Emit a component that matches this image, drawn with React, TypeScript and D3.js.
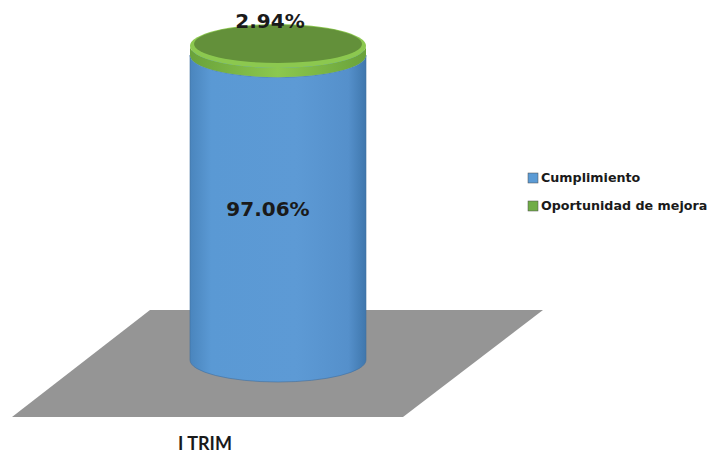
import React from "react";
import * as d3 from "d3";

const categories = ["I TRIM"];
const seriesNames = ["Cumplimiento", "Oportunidad de mejora"];
const cumplimiento = [97.06];
const oportunidad = [2.94];
const seriesColors = ["#5b9bd5", "#70ad47"];

export default function App() {
  const W = 709, H = 454;
  const y = d3.scaleLinear().domain([0, 100]).range([360, 46]);
  const x = d3.scaleBand().domain(categories).range([190, 366]).padding(0);
  const cx = (x(categories[0]) as number) + x.bandwidth() / 2;
  const rx = x.bandwidth() / 2;
  const ry = 22;

  const body = (y0: number, y1: number) =>
    `M${cx - rx},${y1} L${cx - rx},${y0} A${rx},${ry} 0 0 0 ${cx + rx},${y0} L${cx + rx},${y1} A${rx},${ry} 0 0 1 ${cx - rx},${y1} Z`;

  const b0 = y(0), b1 = y(cumplimiento[0]);
  const g1 = y(cumplimiento[0] + oportunidad[0]);

  const floor = "M150,310 L543,310 L403,417 L12,417 Z";
  const font = "'DejaVu Sans', Verdana, sans-serif";

  return (
    <svg width={W} height={H} style={{ position: "absolute", left: 0, top: 0 }}>
      <defs>
        <linearGradient id="blueG" x1="0" x2="1" y1="0" y2="0">
          <stop offset="0" stopColor="#4a85bd" />
          <stop offset="0.12" stopColor="#5a99d4" />
          <stop offset="0.6" stopColor="#5d9ad5" />
          <stop offset="0.9" stopColor="#5590cb" />
          <stop offset="1" stopColor="#3f77ad" />
        </linearGradient>
        <linearGradient id="greenG" x1="0" x2="1" y1="0" y2="0">
          <stop offset="0" stopColor="#6aa23a" />
          <stop offset="0.5" stopColor="#8cc84f" />
          <stop offset="1" stopColor="#6aa23a" />
        </linearGradient>
      </defs>
      <rect width={W} height={H} fill="#ffffff" />
      <path d={floor} fill="#959595" />
      <path d={body(b0, b1)} fill="url(#blueG)" stroke="#3f6f9f" strokeWidth={0.6} />
      <ellipse cx={cx} cy={b1} rx={rx} ry={ry} fill="#5b9bd5" />
      <path d={body(b1, g1)} fill="url(#greenG)" />
      <ellipse cx={cx} cy={g1} rx={rx} ry={ry} fill="#8cc84f" />
      <ellipse cx={cx} cy={g1 - 2} rx={rx - 4} ry={ry - 3} fill="#63903a" />
      <text x={cx - 8} y={28} textAnchor="middle" fontFamily={font} fontWeight="bold" fontSize={20} fill="#1a1a1a">
        {oportunidad[0].toFixed(2)}%
      </text>
      <text x={cx - 10} y={216} textAnchor="middle" fontFamily={font} fontWeight="bold" fontSize={20} fill="#1a1a1a">
        {cumplimiento[0].toFixed(2)}%
      </text>
      <text x={205} y={450} textAnchor="middle" fontFamily="Lato, 'Open Sans', sans-serif" fontWeight="bold" fontSize={18} fill="#1a1a1a">
        {categories[0]}
      </text>
      {seriesNames.map((n, i) => (
        <g key={n} transform={`translate(528,${173 + i * 28})`}>
          <rect x={0} y={0} width={10} height={10} fill={seriesColors[i]} stroke="#4d4d4d" strokeWidth={0.5} />
          <text x={13} y={9} fontFamily={font} fontWeight="bold" fontSize={12.7} fill="#1a1a1a">
            {n}
          </text>
        </g>
      ))}
    </svg>
  );
}
